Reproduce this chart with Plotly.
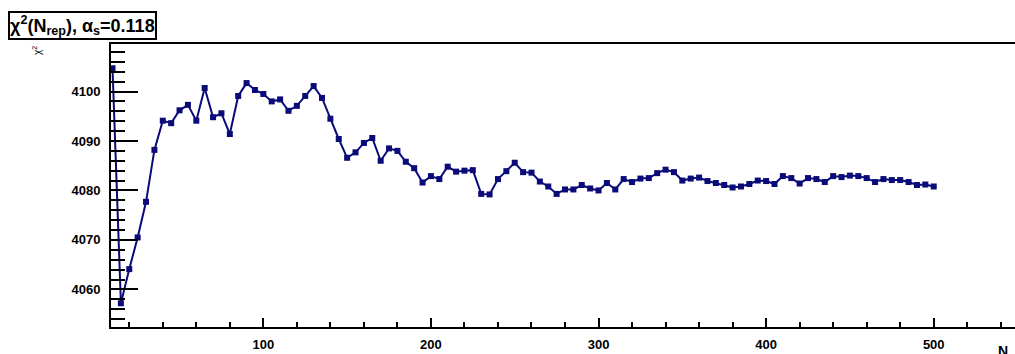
import plotly.graph_objects as go

# Number of replicas and the corresponding chi^2 values
n_rep = list(range(10, 505, 5))
chi2 = [
    4104.7, 4057.2, 4064.1, 4070.5, 4077.7, 4088.2, 4094.1, 4093.6, 4096.2, 4097.3,
    4094.1, 4100.7, 4094.8, 4095.6, 4091.4, 4099.1, 4101.7, 4100.3, 4099.5, 4098.0,
    4098.4, 4096.1, 4097.1, 4099.1, 4101.1, 4098.7, 4094.5, 4090.4, 4086.6, 4087.7,
    4089.6, 4090.6, 4086.0, 4088.5, 4088.0, 4085.8, 4084.5, 4081.6, 4082.9, 4082.3,
    4084.8, 4083.8, 4084.0, 4084.1, 4079.3, 4079.2, 4082.3, 4083.9, 4085.6, 4083.7,
    4083.6, 4081.8, 4080.8, 4079.3, 4080.2, 4080.2, 4081.1, 4080.4, 4080.0, 4081.5,
    4080.2, 4082.3, 4081.7, 4082.4, 4082.5, 4083.5, 4084.2, 4083.7, 4082.0, 4082.4,
    4082.6, 4081.9, 4081.5, 4081.1, 4080.6, 4080.8, 4081.3, 4082.0, 4081.9, 4081.3,
    4082.9, 4082.5, 4081.4, 4082.5, 4082.3, 4081.7, 4082.9, 4082.7, 4083.0, 4082.9,
    4082.5, 4081.7, 4082.3, 4082.1, 4082.1, 4081.7, 4081.1, 4081.2, 4080.8,
]

x_range = [9.1, 548.5]
y_range = [4052.4, 4109.6]
title_text = "χ<sup>2</sup>(N<sub>rep</sub>), α<sub>s</sub>=0.118"
x_title = "N<sub>rep</sub>"
y_title = "χ<sup>2</sup>"

navy = "#0a0a78"
font_family = "Liberation Sans, Arial, Helvetica, sans-serif"
tick_font = dict(size=13, family=font_family, color="black", weight="bold")

# plot area in pixels
L, T, W, H = 111, 44, 904, 283

fig = go.Figure()
fig.add_trace(go.Scatter(
    x=n_rep, y=chi2, mode="lines+markers",
    line=dict(color=navy, width=2),
    marker=dict(symbol="square", size=6, color=navy),
    showlegend=False, cliponaxis=False,
))

fig.update_layout(
    width=1015, height=354,
    margin=dict(l=L, r=0, t=T, b=27),
    paper_bgcolor="white", plot_bgcolor="white",
    font=dict(family=font_family, color="black"),
    xaxis=dict(
        range=x_range, showgrid=False, zeroline=False,
        showline=True, linecolor="black", linewidth=2, mirror=True,
        ticks="inside", ticklen=9, tickwidth=2, tickcolor="black",
        dtick=100, tick0=0,
        minor=dict(dtick=20, ticks="inside", ticklen=5, tickwidth=2, tickcolor="black"),
        tickfont=tick_font,
        ticklabelstandoff=4,
    ),
    yaxis=dict(
        range=y_range, showgrid=False, zeroline=False,
        showline=True, linecolor="black", linewidth=2, mirror=False,
        ticks="inside", ticklen=27, tickwidth=2, tickcolor="black",
        dtick=10, tick0=4000,
        minor=dict(dtick=2, ticks="inside", ticklen=14, tickwidth=2, tickcolor="black"),
        tickfont=tick_font,
        ticklabelstandoff=6,
    ),
)

# Title box in the top-left corner
fig.add_annotation(
    text="<b>" + title_text + "</b>", xref="paper", yref="paper",
    x=(8 - L) / W, y=1 + (T - 40) / H, xanchor="left", yanchor="bottom",
    showarrow=False, font=dict(size=18, color="black", family=font_family),
    bordercolor="black", borderwidth=2, borderpad=0, bgcolor="white",
)

# Axis titles
fig.add_annotation(
    text=y_title, xref="paper", yref="paper",
    x=(37 - L) / W, y=1 - (51 - T) / H, xanchor="center", yanchor="middle",
    textangle=-90, showarrow=False, font=dict(size=10, color="black", family=font_family),
)
fig.add_annotation(
    text="<b>" + x_title + "</b>", xref="paper", yref="paper",
    x=(996 - L) / W, y=-(341 - T - H) / H, xanchor="left", yanchor="top",
    showarrow=False, font=dict(size=14, color="black", family=font_family),
)

fig.write_html("out.html")
